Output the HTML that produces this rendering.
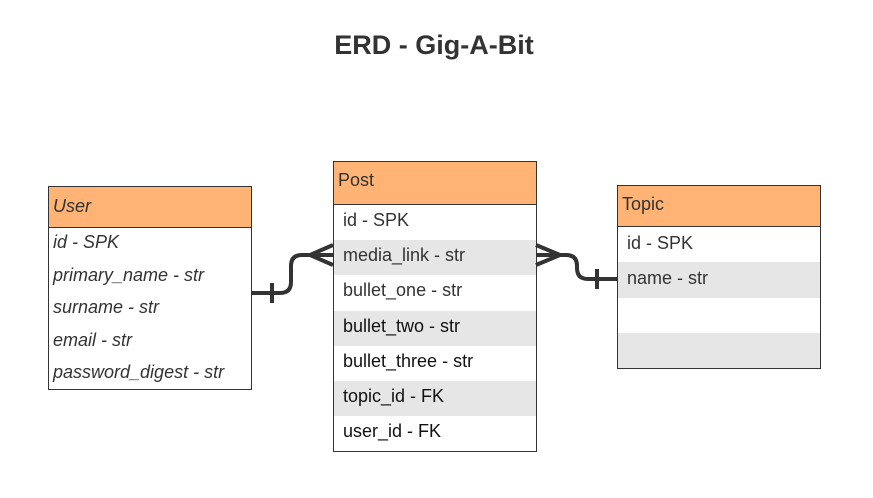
<!DOCTYPE html>
<html><head><style>
body{margin:0;width:873px;height:498px;background:#fff;overflow:hidden;font-family:"Liberation Sans",sans-serif;}
.t{position:absolute;left:0;width:868px;top:30px;text-align:center;font-weight:bold;font-size:27px;color:#333;}
.box{position:absolute;border:1px solid #333;background:#fff;}
.h{background:#ffb374;border-bottom:1px solid #333;box-sizing:border-box;padding-left:4px;font-size:18px;color:#333;}
.r{box-sizing:border-box;padding-left:9px;font-size:18px;color:#333;}
.g{background:#e6e6e6;}
.i{font-style:italic;padding-left:4px;}
</style></head><body>
<div class="t">ERD - Gig-A-Bit</div>
<div class="box" style="left:48px;top:186px;width:202px;height:202px;">
<div class="h i" style="height:41px;line-height:38px;font-style:italic;">User</div>
<div class="r i" style="height:32.5px;line-height:28px;">id - SPK</div>
<div class="r i" style="height:32.5px;line-height:28px;">primary_name - str</div>
<div class="r i" style="height:32.5px;line-height:28px;">surname - str</div>
<div class="r i" style="height:32.5px;line-height:28px;">email - str</div>
<div class="r i" style="height:32.5px;line-height:28px;">password_digest - str</div>
</div>
<div class="box" style="left:333px;top:161px;width:202px;height:289px;">
<div class="h" style="height:43px;line-height:36px;">Post</div>
<div class="r" style="height:35.2px;line-height:31px;">id - SPK</div>
<div class="r g" style="height:35.2px;line-height:31px;">media_link - str</div>
<div class="r" style="height:35.2px;line-height:31px;">bullet_one - str</div>
<div class="r g" style="height:35.2px;line-height:31px;color:#111">bullet_two - str</div>
<div class="r" style="height:35.2px;line-height:31px;color:#111">bullet_three - str</div>
<div class="r g" style="height:35.2px;line-height:31px;color:#111">topic_id - FK</div>
<div class="r" style="height:35.2px;line-height:31px;color:#111">user_id - FK</div>
</div>
<div class="box" style="left:617px;top:185px;width:202px;height:182px;">
<div class="h" style="height:41px;line-height:36px;">Topic</div>
<div class="r" style="height:35.3px;line-height:33px;">id - SPK</div>
<div class="r g" style="height:35.3px;line-height:33px;">name - str</div>
<div class="r" style="height:35.3px;"></div>
<div class="r g" style="height:35.3px;"></div>
</div>
<svg width="873" height="498" style="position:absolute;left:0;top:0" fill="none" stroke="#333" stroke-width="4">
<path d="M251 293 H280 Q291 293 291 282 V266 Q291 255 302 255 H333"/>
<path d="M333 245 L310 255 L333 265"/>
<path d="M272 283 V303"/>
<path d="M536 255 H566 Q577 255 577 266 V268 Q577 279 588 279 H617"/>
<path d="M536 245 L560 255 L536 265"/>
<path d="M597 269 V289"/>
</svg>
</body></html>
